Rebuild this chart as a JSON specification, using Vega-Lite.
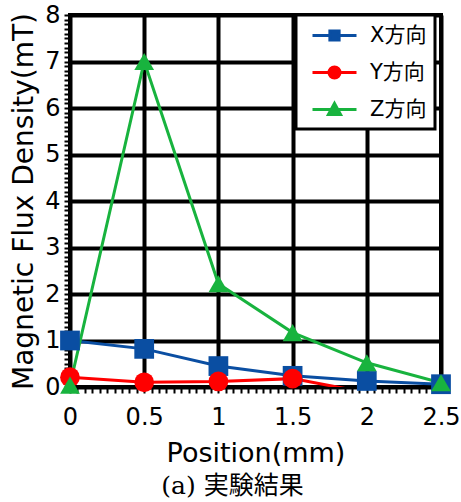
{
  "$schema": "https://vega.github.io/schema/vega-lite/v6.json",
  "autosize": "none",
  "width": 371,
  "height": 372,
  "padding": {"left": 70, "top": 15, "right": 20, "bottom": 115},
  "background": "white",
  "config": {
    "view": {"stroke": "black", "strokeWidth": 4},
    "font": "DejaVu Sans",
    "legend": {"strokeWidth": 3}
  },
  "title": {
    "text": "(a) 実験結果",
    "orient": "bottom",
    "anchor": "middle",
    "font": "DejaVu Serif, Noto Sans CJK JP",
    "fontSize": 25,
    "fontWeight": "normal",
    "color": "black",
    "offset": 8,
    "dx": -23
  },
  "data": {
    "values": [
      {"pos": 0, "val": 1.0, "series": "X方向"},
      {"pos": 0.5, "val": 0.82, "series": "X方向"},
      {"pos": 1, "val": 0.45, "series": "X方向"},
      {"pos": 1.5, "val": 0.24, "series": "X方向"},
      {"pos": 2, "val": 0.13, "series": "X方向"},
      {"pos": 2.5, "val": 0.06, "series": "X方向"},
      {"pos": 0, "val": 0.21, "series": "Y方向"},
      {"pos": 0.5, "val": 0.1, "series": "Y方向"},
      {"pos": 1, "val": 0.12, "series": "Y方向"},
      {"pos": 1.5, "val": 0.18, "series": "Y方向"},
      {"pos": 2, "val": -0.12, "series": "Y方向"},
      {"pos": 0, "val": 0.04, "series": "Z方向"},
      {"pos": 0.5, "val": 7.0, "series": "Z方向"},
      {"pos": 1, "val": 2.22, "series": "Z方向"},
      {"pos": 1.5, "val": 1.17, "series": "Z方向"},
      {"pos": 2, "val": 0.52, "series": "Z方向"},
      {"pos": 2.5, "val": 0.09, "series": "Z方向"}
    ]
  },
  "encoding": {
    "x": {
      "field": "pos",
      "type": "quantitative",
      "scale": {"domain": [0, 2.5], "nice": false, "zero": false},
      "axis": {
        "tickCount": 50,
        "labelExpr": "abs(datum.value * 2 - round(datum.value * 2)) < 1e-9 ? format(datum.value, '~g') : ''",
        "domain": false,
        "grid": true,
        "gridWidth": 4,
        "gridColor": {"condition": {"test": "abs(datum.value * 2 - round(datum.value * 2)) < 1e-9", "value": "black"}, "value": "transparent"},
        "ticks": true,
        "tickColor": "black",
        "tickWidth": 2,
        "tickSize": 6,
        "labelFont": "DejaVu Sans",
        "labelFontSize": 24,
        "labelColor": "black",
        "labelPadding": 12,
        "labelOverlap": false,
        "labelFlush": false,
        "title": "Position(mm)",
        "titleFont": "DejaVu Sans",
        "titleFontSize": 27,
        "titleFontWeight": "normal",
        "titleColor": "black",
        "titlePadding": 11
      }
    },
    "y": {
      "field": "val",
      "type": "quantitative",
      "scale": {"domain": [0, 8], "nice": false},
      "axis": {
        "tickCount": 80,
        "labelExpr": "abs(datum.value - round(datum.value)) < 1e-9 ? format(datum.value, 'd') : ''",
        "domain": false,
        "grid": true,
        "gridWidth": 4,
        "gridColor": {"condition": {"test": "abs(datum.value - round(datum.value)) < 1e-9", "value": "black"}, "value": "transparent"},
        "ticks": true,
        "tickColor": "black",
        "tickWidth": 2,
        "tickSize": 6,
        "labelFont": "DejaVu Sans",
        "labelFontSize": 24,
        "labelColor": "black",
        "labelPadding": 4,
        "labelOverlap": false,
        "labelFlush": false,
        "title": "Magnetic Flux Density(mT)",
        "titleFont": "DejaVu Sans",
        "titleFontSize": 28,
        "titleFontWeight": "normal",
        "titleColor": "black",
        "titlePadding": 6
      }
    }
  },
  "layer": [
    {
      "mark": {"type": "line", "strokeWidth": 3, "clip": true},
      "encoding": {
        "color": {
          "field": "series",
          "type": "nominal",
          "scale": {"domain": ["X方向", "Y方向", "Z方向"], "range": ["#0A4EA2", "#FF0000", "#18B33E"]},
          "legend": null
        }
      }
    },
    {
      "transform": [{"filter": "datum.val >= 0"}],
      "mark": {"type": "point", "filled": true, "opacity": 1, "size": 390},
      "encoding": {
        "color": {"field": "series", "type": "nominal", "legend": null},
        "shape": {
          "field": "series",
          "type": "nominal",
          "scale": {"domain": ["X方向", "Y方向", "Z方向"], "range": ["square", "circle", "triangle-up"]},
          "legend": null
        }
      }
    },
    {
      "transform": [{"filter": "false"}],
      "mark": {"type": "point", "filled": true, "opacity": 1, "size": 484, "strokeWidth": 3},
      "encoding": {
        "fill": {
          "field": "series",
          "type": "nominal",
          "scale": {"domain": ["X方向", "Y方向", "Z方向"], "range": ["#0A4EA2", "#FF0000", "#18B33E"]},
          "legend": {
            "title": null,
            "orient": "none",
            "legendX": 226,
            "legendY": 0,
            "direction": "vertical",
            "fillColor": "white",
            "strokeColor": "black",
            "padding": 8,
            "labelFont": "DejaVu Sans, Noto Sans CJK JP",
            "labelFontSize": 21,
            "labelColor": "black",
            "labelExpr": "datum.label + '      '",
            "labelOffset": 23,
            "symbolOffset": 18,
            "symbolSize": 484,
            "rowPadding": 13,
            "symbolStrokeWidth": 3
          }
        },
        "stroke": {
          "field": "series",
          "type": "nominal",
          "scale": {"domain": ["X方向", "Y方向", "Z方向"], "range": ["#0A4EA2", "#FF0000", "#18B33E"]},
          "legend": {"title": null}
        },
        "shape": {
          "field": "series",
          "type": "nominal",
          "scale": {
            "domain": ["X方向", "Y方向", "Z方向"],
            "range": [
              "M-2,0H2M-0.42,-0.42H0.42V0.42H-0.42Z",
              "M-2,0H2M-0.5,0A0.5,0.5 0 1,0 0.5,0A0.5,0.5 0 1,0 -0.5,0Z",
              "M-2,0H2M0,-0.55L0.55,0.45L-0.55,0.45Z"
            ]
          },
          "legend": {"title": null}
        }
      }
    }
  ],
  "resolve": {"scale": {"shape": "independent", "fill": "independent", "stroke": "independent"}}
}
